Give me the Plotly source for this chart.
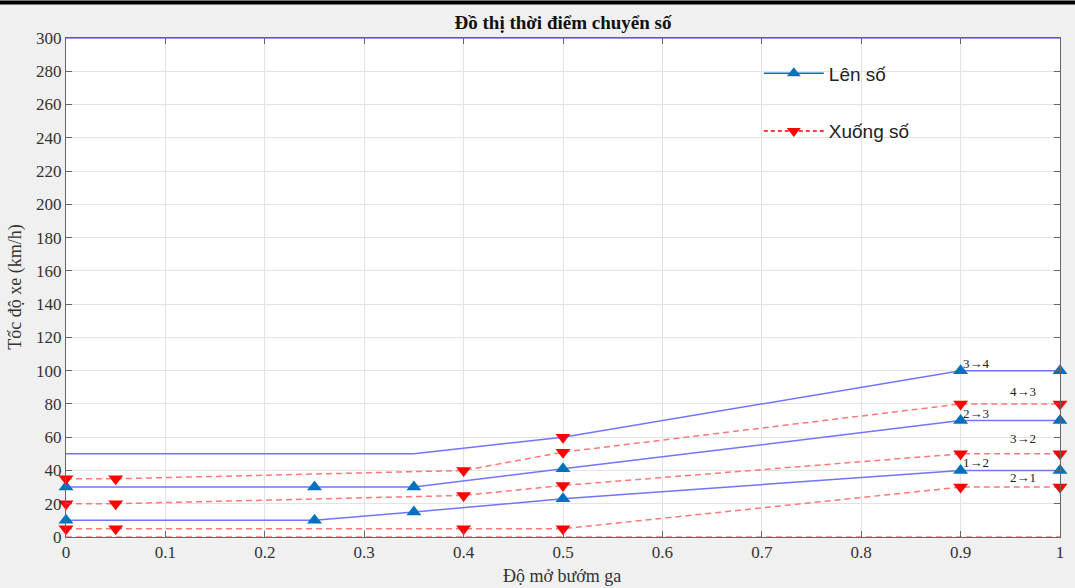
import plotly.graph_objects as go

# ---- data ----
x_up = [0, 0.25, 0.35, 0.5, 0.9, 1]
up_12 = [10, 10, 15, 23, 40, 40]
up_23 = [30, 30, 30, 41, 70, 70]
x_up34 = [0, 0.35, 0.5, 0.9, 1]
up_34 = [50, 50, 60, 100, 100]
x_top = [0, 1]
up_top = [300, 300]

x_dn = [0, 0.05, 0.4, 0.5, 0.9, 1]
dn_21 = [5, 5, 5, 5, 30, 30]
dn_32 = [20, 20, 25, 31, 50, 50]
dn_43 = [35, 35, 40, 51, 80, 80]
x_bot = [0, 1]
dn_bot = [0, 0]

# marker points
up_mx = [0, 0, 0.25, 0.25, 0.35, 0.35, 0.5, 0.5, 0.9, 0.9, 0.9, 1, 1, 1]
up_my = [10, 30, 10, 30, 15, 30, 23, 41, 40, 70, 100, 40, 70, 100]
dn_mx = [0, 0, 0, 0.05, 0.05, 0.05, 0.4, 0.4, 0.4, 0.5, 0.5, 0.5, 0.5, 0.9, 0.9, 0.9, 1, 1, 1]
dn_my = [5, 20, 35, 5, 20, 35, 5, 25, 40, 5, 31, 51, 60, 30, 50, 80, 30, 50, 80]

labels = ["3→4", "4→3", "2→3", "3→2", "1→2", "2→1"]
label_x = [0.9, 0.948, 0.9, 0.948, 0.9, 0.948]
label_y = [100, 83, 70, 55, 40, 31]

x_ticks = [0, 0.1, 0.2, 0.3, 0.4, 0.5, 0.6, 0.7, 0.8, 0.9, 1]
x_tick_text = ["0", "0.1", "0.2", "0.3", "0.4", "0.5", "0.6", "0.7", "0.8", "0.9", "1"]

BLUE_LINE = "rgb(115,115,255)"
RED_LINE = "rgb(255,120,120)"
BLUE_MK = "#0072BD"
RED_MK = "#FF0000"

fig = go.Figure()

for xs, ys in [(x_up, up_12), (x_up, up_23), (x_up34, up_34), (x_top, up_top)]:
    fig.add_trace(go.Scatter(x=xs, y=ys, mode="lines", showlegend=False,
                             line=dict(color=BLUE_LINE, width=1.5), hoverinfo="skip"))
for xs, ys in [(x_dn, dn_21), (x_dn, dn_32), (x_dn, dn_43), (x_bot, dn_bot)]:
    fig.add_trace(go.Scatter(x=xs, y=ys, mode="lines", showlegend=False,
                             line=dict(color=RED_LINE, width=1.5, dash="6px,4px"), hoverinfo="skip"))

fig.add_trace(go.Scatter(x=up_mx, y=up_my, mode="markers", showlegend=False, cliponaxis=False,
                         marker=dict(symbol="triangle-up", size=13, color=BLUE_MK)))
fig.add_trace(go.Scatter(x=dn_mx, y=dn_my, mode="markers", showlegend=False, cliponaxis=False,
                         marker=dict(symbol="triangle-down", size=13, color=RED_MK)))

# legend entries
fig.add_trace(go.Scatter(x=[None], y=[None], mode="lines+markers", name="Lên số", legendgroup="a",
                         line=dict(color=BLUE_MK, width=1.5),
                         marker=dict(symbol="triangle-up", size=12, color=BLUE_MK)))
fig.add_trace(go.Scatter(x=[None], y=[None], mode="lines+markers", name="Xuống số", legendgroup="b",
                         line=dict(color=RED_MK, width=1.5, dash="4px,3px"),
                         marker=dict(symbol="triangle-down", size=12, color=RED_MK)))

for t, lx, ly in zip(labels, label_x, label_y):
    fig.add_annotation(x=lx, y=ly, text=t, showarrow=False, xanchor="left", yanchor="bottom",
                       xshift=0, yshift=-2,
                       font=dict(family="Liberation Serif", size=13, color="#222"))

# axis titles as paper annotations
fig.add_annotation(xref="paper", yref="paper", x=0.499, y=-0.078, yanchor="middle", xanchor="center",
                   text="Độ mở bướm ga", showarrow=False,
                   font=dict(family="Liberation Serif", size=18, color="#333"))
fig.add_annotation(xref="paper", yref="paper", x=-0.051, y=0.5, yanchor="middle", xanchor="center",
                   text="Tốc độ xe (km/h)", showarrow=False, textangle=-90,
                   font=dict(family="Liberation Serif", size=18, color="#333"))

axis_common = dict(showgrid=True, gridcolor="#e3e3e3", gridwidth=1, zeroline=False,
                   showline=True, linecolor="#666", linewidth=1, mirror="ticks",
                   ticks="inside", ticklen=6, tickcolor="#666", automargin=False,
                   tickfont=dict(family="Liberation Serif", size=17, color="#333"))

fig.update_layout(
    width=1075, height=588,
    paper_bgcolor="#f0f0f0", plot_bgcolor="white",
    margin=dict(l=66, r=15, t=38, b=51),
    title=dict(text="<b>Đồ thị thời điểm chuyển số</b>", x=0.5, xanchor="center",
               xref="paper", y=0.962, yanchor="middle",
               font=dict(family="Liberation Serif", size=19, color="#111")),
    xaxis=dict(range=[0, 1], tickvals=x_ticks, ticktext=x_tick_text, **axis_common),
    yaxis=dict(range=[0, 300], dtick=20, **axis_common),
    legend=dict(x=0.697, y=0.967, xanchor="left", yanchor="top", bgcolor="rgba(0,0,0,0)",
                font=dict(family="Liberation Sans", size=19, color="#222"),
                tracegroupgap=30, itemwidth=60),
    showlegend=True,
)

fig.add_shape(type="line", xref="paper", yref="paper", x0=-0.1, x1=1.1, y0=1.0711, y1=1.0711,
              line=dict(color="black", width=4))

fig.write_html("out.html", config={"displayModeBar": False},
               post_script="document.body.style.margin='0';document.body.style.overflow='hidden';")
